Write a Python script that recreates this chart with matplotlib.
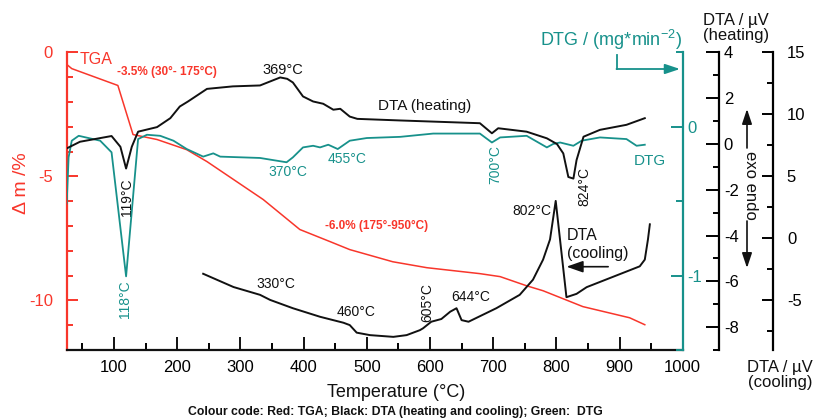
import matplotlib
matplotlib.use("Agg")
import matplotlib.pyplot as plt
from matplotlib.lines import Line2D
from matplotlib.ticker import MultipleLocator, FixedLocator

plt.rcParams['font.family'] = ['Liberation Sans', 'DejaVu Sans']
plt.rcParams['mathtext.fontset'] = 'custom'
plt.rcParams['mathtext.rm'] = 'Liberation Sans'
plt.rcParams['mathtext.default'] = 'regular'
plt.rcParams['axes.unicode_minus'] = False

RED = '#f8362b'
TEAL = '#17918b'
BLACK = '#111111'

# ---------------- data ----------------
tga_T = [25, 33, 106, 130, 168, 215, 247, 336, 394, 442, 473, 541, 595, 679, 711, 753, 779, 842, 916, 940]
tga_m = [-0.48, -0.65, -1.33, -3.31, -3.51, -3.92, -4.4, -5.93, -7.14, -7.63, -7.95, -8.44, -8.68, -8.92,
         -9.04, -9.41, -9.61, -10.25, -10.7, -10.98]

dtah_T = [25, 46, 96, 110, 119, 128, 138, 168, 189, 204, 217, 247, 288, 331, 363, 374, 383, 399, 415, 431,
          447, 458, 473, 485, 553, 679, 698, 708, 753, 785, 801, 811, 819, 827, 832, 843, 869, 911, 940]
dtah_v = [-0.19, 0.10, 0.35, -0.12, -1.07, -0.12, 0.54, 0.74, 1.13, 1.64, 1.86, 2.41, 2.52, 2.56, 2.91,
          2.85, 2.69, 2.08, 1.86, 1.76, 1.50, 1.54, 1.20, 1.10, 1.03, 0.91, 0.47, 0.69, 0.54, 0.25, 0.0,
          -0.41, -1.44, -1.51, -0.70, 0.32, 0.62, 0.84, 1.13]

dtg_T = [25, 28, 33, 44, 78, 96, 119, 138, 152, 173, 194, 215, 241, 257, 268, 331, 357, 373, 383, 399,
         415, 426, 439, 454, 473, 500, 553, 605, 679, 698, 711, 753, 785, 795, 806, 827, 840, 869, 911,
         927, 940]
dtg_v = [-0.515, -0.205, -0.093, -0.06, -0.093, -0.171, -1.005, -0.082, -0.053, -0.06, -0.093, -0.149,
         -0.2, -0.178, -0.2, -0.209, -0.227, -0.238, -0.205, -0.138, -0.127, -0.138, -0.12, -0.149,
         -0.093, -0.075, -0.067, -0.045, -0.045, -0.105, -0.071, -0.06, -0.138, -0.115, -0.105, -0.127,
         -0.093, -0.071, -0.082, -0.127, -0.12]

dtac_T = [241, 289, 331, 347, 383, 426, 463, 473, 484, 505, 542, 563, 584, 589, 602, 618, 632, 642, 650,
          661, 705, 742, 763, 779, 790, 799, 816, 832, 848, 932, 940, 945, 948]
dtac_v = [-2.85, -3.92, -4.55, -4.96, -5.63, -6.32, -6.80, -6.99, -7.6, -7.8, -7.94, -7.8, -7.4, -7.25,
          -6.72, -6.5, -5.91, -5.63, -6.59, -6.72, -5.63, -4.55, -3.33, -1.71, -0.08, 3.03, -4.74, -4.47,
          -3.93, -2.25, -1.71, -0.08, 1.14]

x_major = list(range(100, 1001, 100))
x_minor = list(range(50, 951, 100))

W, H = 814, 419
def fx(px):
    return px / W
def fy(py):
    return 1 - py / H

fig = plt.figure(figsize=(8.14, 4.19), dpi=100)
ax = fig.add_axes([fx(66.7), fy(350), (682.7 - 66.7) / W, (350 - 52.5) / H])

# main axes: TGA
ax.plot(tga_T, tga_m, color=RED, lw=1.1, zorder=3)
ax.set_xlim(25, 1000)
ax.set_ylim(-12, 0)
for s in ['top', 'right']:
    ax.spines[s].set_visible(False)
ax.spines['left'].set_color(RED)
ax.spines['left'].set_linewidth(1.6)
ax.spines['bottom'].set_color(BLACK)
ax.spines['bottom'].set_linewidth(1.6)
ax.xaxis.set_major_locator(FixedLocator(x_major))
ax.xaxis.set_minor_locator(FixedLocator(x_minor))
ax.tick_params(axis='x', which='major', direction='in', length=9.5, width=1.4, labelsize=12, pad=7, color=BLACK)
ax.tick_params(axis='x', which='minor', direction='in', length=5, width=1.4)
ax.yaxis.set_major_locator(FixedLocator([-10, -5, 0]))
ax.yaxis.set_minor_locator(MultipleLocator(1))
ax.tick_params(axis='y', which='major', direction='in', length=8, width=1.4, colors=RED, labelsize=12, pad=10)
ax.tick_params(axis='y', which='minor', direction='in', length=4.5, width=1.4, colors=RED)

# DTG axis
axd = ax.twinx()
axd.plot(dtg_T, dtg_v, color=TEAL, lw=1.3)
axd.set_ylim(-1.5, 0.5)
for s in ['top', 'bottom', 'left']:
    axd.spines[s].set_visible(False)
axd.spines['right'].set_color(TEAL)
axd.spines['right'].set_linewidth(1.6)
axd.yaxis.set_major_locator(FixedLocator([-1, 0]))
axd.yaxis.set_minor_locator(FixedLocator([-1.5, -0.5, 0.5]))
axd.tick_params(axis='y', which='major', direction='in', length=8.6, width=1.4, colors=TEAL, labelsize=12, pad=3.5)
axd.tick_params(axis='y', which='minor', direction='in', length=5, width=1.4, colors=TEAL)

# DTA heating axis
axh = ax.twinx()
axh.plot(dtah_T, dtah_v, color=BLACK, lw=1.4)
axh.set_ylim(-9, 4)
for s in ['top', 'bottom', 'left']:
    axh.spines[s].set_visible(False)
axh.spines['right'].set_position(('axes', (719 - 66.7) / (682.7 - 66.7)))
axh.spines['right'].set_linewidth(1.6)
axh.yaxis.set_major_locator(MultipleLocator(2))
axh.yaxis.set_minor_locator(MultipleLocator(1))
axh.tick_params(axis='y', which='major', direction='in', length=9.5, width=1.4, labelsize=12, pad=3.5)
axh.tick_params(axis='y', which='minor', direction='in', length=4.5, width=1.4)

# DTA cooling axis
axc = ax.twinx()
axc.plot(dtac_T, dtac_v, color=BLACK, lw=1.4)
axc.set_ylim(-9, 15)
for s in ['top', 'bottom', 'left']:
    axc.spines[s].set_visible(False)
axc.spines['right'].set_position(('axes', (773 - 66.7) / (682.7 - 66.7)))
axc.spines['right'].set_linewidth(1.6)
axc.yaxis.set_major_locator(MultipleLocator(5))
axc.yaxis.set_minor_locator(MultipleLocator(2.5))
axc.tick_params(axis='y', which='major', direction='in', length=8, width=1.4, labelsize=12, pad=10)
axc.tick_params(axis='y', which='minor', direction='in', length=4.5, width=1.4)

# annotations in main-axes data coordinates (T, delta m)
ax.text(46, -0.28, 'TGA', color=RED, fontsize=11.5, ha='left', va='center')
ax.text(184, -0.77, '-3.5% (30°- 175°C)', color=RED, fontsize=8.5, fontweight='bold', ha='center', va='center')
ax.text(367, -0.69, '369°C', color=BLACK, fontsize=10.5, ha='center', va='center')
ax.text(592, -2.14, 'DTA (heating)', color=BLACK, fontsize=11, ha='center', va='center')
ax.text(121, -5.85, '119°C', color=BLACK, fontsize=10, rotation=90, ha='center', va='center')
ax.text(117, -9.97, '118°C', color=TEAL, fontsize=10, rotation=90, ha='center', va='center')
ax.text(375, -4.84, '370°C', color=TEAL, fontsize=10, ha='center', va='center')
ax.text(469, -4.28, '455°C', color=TEAL, fontsize=10, ha='center', va='center')
ax.text(703, -4.52, '700°C', color=TEAL, fontsize=10, rotation=90, ha='center', va='center')
ax.text(948, -4.36, 'DTG', color=TEAL, fontsize=11, ha='center', va='center')
ax.text(844, -5.41, '824°C', color=BLACK, fontsize=10, rotation=90, ha='center', va='center')
ax.text(516, -6.98, '-6.0% (175°-950°C)', color=RED, fontsize=8.5, fontweight='bold', ha='center', va='center')
ax.text(761, -6.38, '802°C', color=BLACK, fontsize=10, ha='center', va='center')
ax.text(817, -7.75, 'DTA\n(cooling)', color=BLACK, fontsize=11.5, ha='left', va='center', linespacing=1.25)
ax.annotate('', xy=(816, -8.64), xytext=(882, -8.64), xycoords='data',
            arrowprops=dict(arrowstyle='-|>,head_length=1.0,head_width=0.35', color=BLACK, lw=1.2,
                            shrinkA=0, shrinkB=0))
ax.text(356, -9.33, '330°C', color=BLACK, fontsize=10, ha='center', va='center')
ax.text(483, -10.46, '460°C', color=BLACK, fontsize=10, ha='center', va='center')
ax.text(595, -10.09, '605°C', color=BLACK, fontsize=10, rotation=90, ha='center', va='center')
ax.text(665, -9.85, '644°C', color=BLACK, fontsize=10, ha='center', va='center')

# figure-level labels
fig.text(fx(21.5), fy(183), 'Δ m /%', color=RED, fontsize=14, rotation=90, ha='center', va='center')
fig.text(fx(611), fy(40), r'DTG / (mg*min$^{-2}$)', color=TEAL, fontsize=13, ha='center', va='center')
fig.add_artist(Line2D([fx(617), fx(617)], [fy(55), fy(69)], color=TEAL, lw=1.3))
ax.annotate('', xy=(fx(680), fy(69)), xytext=(fx(616.5), fy(69)), xycoords='figure fraction',
            arrowprops=dict(arrowstyle='-|>,head_length=0.9,head_width=0.3', color=TEAL, lw=1.3,
                            shrinkA=0, shrinkB=0), annotation_clip=False)
fig.text(fx(736), fy(28), 'DTA / µV\n(heating)', color=BLACK, fontsize=12, ha='center', va='center', linespacing=1.05)
fig.text(fx(780), fy(375), 'DTA / µV\n(cooling)', color=BLACK, fontsize=12, ha='center', va='center', linespacing=1.05)
fig.text(fx(751), fy(185), 'exo endo', color=BLACK, fontsize=12, rotation=270, ha='center', va='center')
ax.annotate('', xy=(fx(747), fy(109)), xytext=(fx(747), fy(148)), xycoords='figure fraction',
            arrowprops=dict(arrowstyle='-|>,head_length=0.9,head_width=0.3', color=BLACK, lw=1.2,
                            shrinkA=0, shrinkB=0), annotation_clip=False)
ax.annotate('', xy=(fx(747), fy(268)), xytext=(fx(747), fy(221)), xycoords='figure fraction',
            arrowprops=dict(arrowstyle='-|>,head_length=0.9,head_width=0.3', color=BLACK, lw=1.2,
                            shrinkA=0, shrinkB=0), annotation_clip=False)
fig.text(fx(396), fy(392), 'Temperature (°C)', color=BLACK, fontsize=13, ha='center', va='center')
fig.text(fx(395), fy(412), 'Colour code: Red: TGA; Black: DTA (heating and cooling); Green:  DTG',
         color=BLACK, fontsize=8.8, fontweight='bold', ha='center', va='center')

fig.savefig('out.png', dpi=100)
